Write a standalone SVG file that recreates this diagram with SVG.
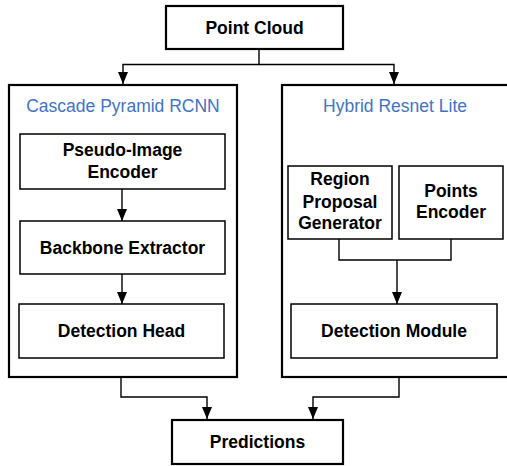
<svg xmlns="http://www.w3.org/2000/svg" width="507" height="466" viewBox="0 0 507 466">
<defs>
<marker id="ah" markerWidth="12" markerHeight="10" refX="12" refY="5" orient="auto" markerUnits="userSpaceOnUse" viewBox="0 0 12 10">
<path d="M0,0 L12,5 L0,10 Z" fill="#000"/>
</marker>
<style>
.outer{fill:#fff;stroke:#000;stroke-width:2.2}
.inner{fill:#fff;stroke:#000;stroke-width:1.5}
.lbl{font-family:"Liberation Sans",Arial,sans-serif;font-weight:bold;font-size:17.5px;text-anchor:middle;fill:#000}
.ttl{font-family:"Liberation Sans",Arial,sans-serif;font-size:17.5px;text-anchor:middle;fill:#4472C4}
.con{fill:none;stroke:#000;stroke-width:1.4}
</style>
</defs>
<rect width="507" height="466" fill="#fff"/>
<g id="point-cloud">
<rect class="outer" x="166" y="6" width="177" height="43"/>
<text class="lbl" x="254.5" y="33.5">Point Cloud</text>
</g>
<g id="cascade-pyramid-rcnn">
<rect class="outer" x="9" y="85" width="228" height="292"/>
<text class="ttl" x="123" y="112">Cascade Pyramid RCNN</text>
</g>
<g id="hybrid-resnet-lite">
<rect class="outer" x="282" y="85" width="230" height="292"/>
<text class="ttl" x="395" y="112">Hybrid Resnet Lite</text>
</g>
<g id="pseudo-image-encoder">
<rect class="inner" x="20" y="134" width="205" height="55"/>
<text class="lbl" x="122.5" y="156">Pseudo-Image</text>
<text class="lbl" x="122.5" y="178">Encoder</text>
</g>
<g id="backbone-extractor">
<rect class="inner" x="20" y="221" width="205" height="53"/>
<text class="lbl" x="122.5" y="253.5">Backbone Extractor</text>
</g>
<g id="detection-head">
<rect class="inner" x="19" y="304" width="205" height="54"/>
<text class="lbl" x="121.5" y="337">Detection Head</text>
</g>
<g id="region-proposal-generator">
<rect class="inner" x="288" y="166" width="104" height="73"/>
<text class="lbl" x="340" y="185">Region</text>
<text class="lbl" x="340" y="207.5">Proposal</text>
<text class="lbl" x="340" y="229">Generator</text>
</g>
<g id="points-encoder">
<rect class="inner" x="399" y="166" width="104" height="73"/>
<text class="lbl" x="451" y="197">Points</text>
<text class="lbl" x="451" y="218">Encoder</text>
</g>
<g id="detection-module">
<rect class="inner" x="291" y="304" width="206" height="54"/>
<text class="lbl" x="394" y="337">Detection Module</text>
</g>
<g id="predictions">
<rect class="outer" x="172" y="420" width="171" height="44"/>
<text class="lbl" x="257.5" y="447.5">Predictions</text>
</g>
<g id="connectors">
<path class="con" d="M259,50 V64.5 H123 V84" marker-end="url(#ah)"/>
<path class="con" d="M259,64.5 H394 V84" marker-end="url(#ah)"/>
<path class="con" d="M122,189 V221" marker-end="url(#ah)"/>
<path class="con" d="M122,274 V304" marker-end="url(#ah)"/>
<path class="con" d="M339,239 V260 H451 V239"/>
<path class="con" d="M397,260 V304" marker-end="url(#ah)"/>
<path class="con" d="M121,378 V397 H207 V419" marker-end="url(#ah)"/>
<path class="con" d="M399,378 V397 H313 V419" marker-end="url(#ah)"/>
</g>
</svg>
